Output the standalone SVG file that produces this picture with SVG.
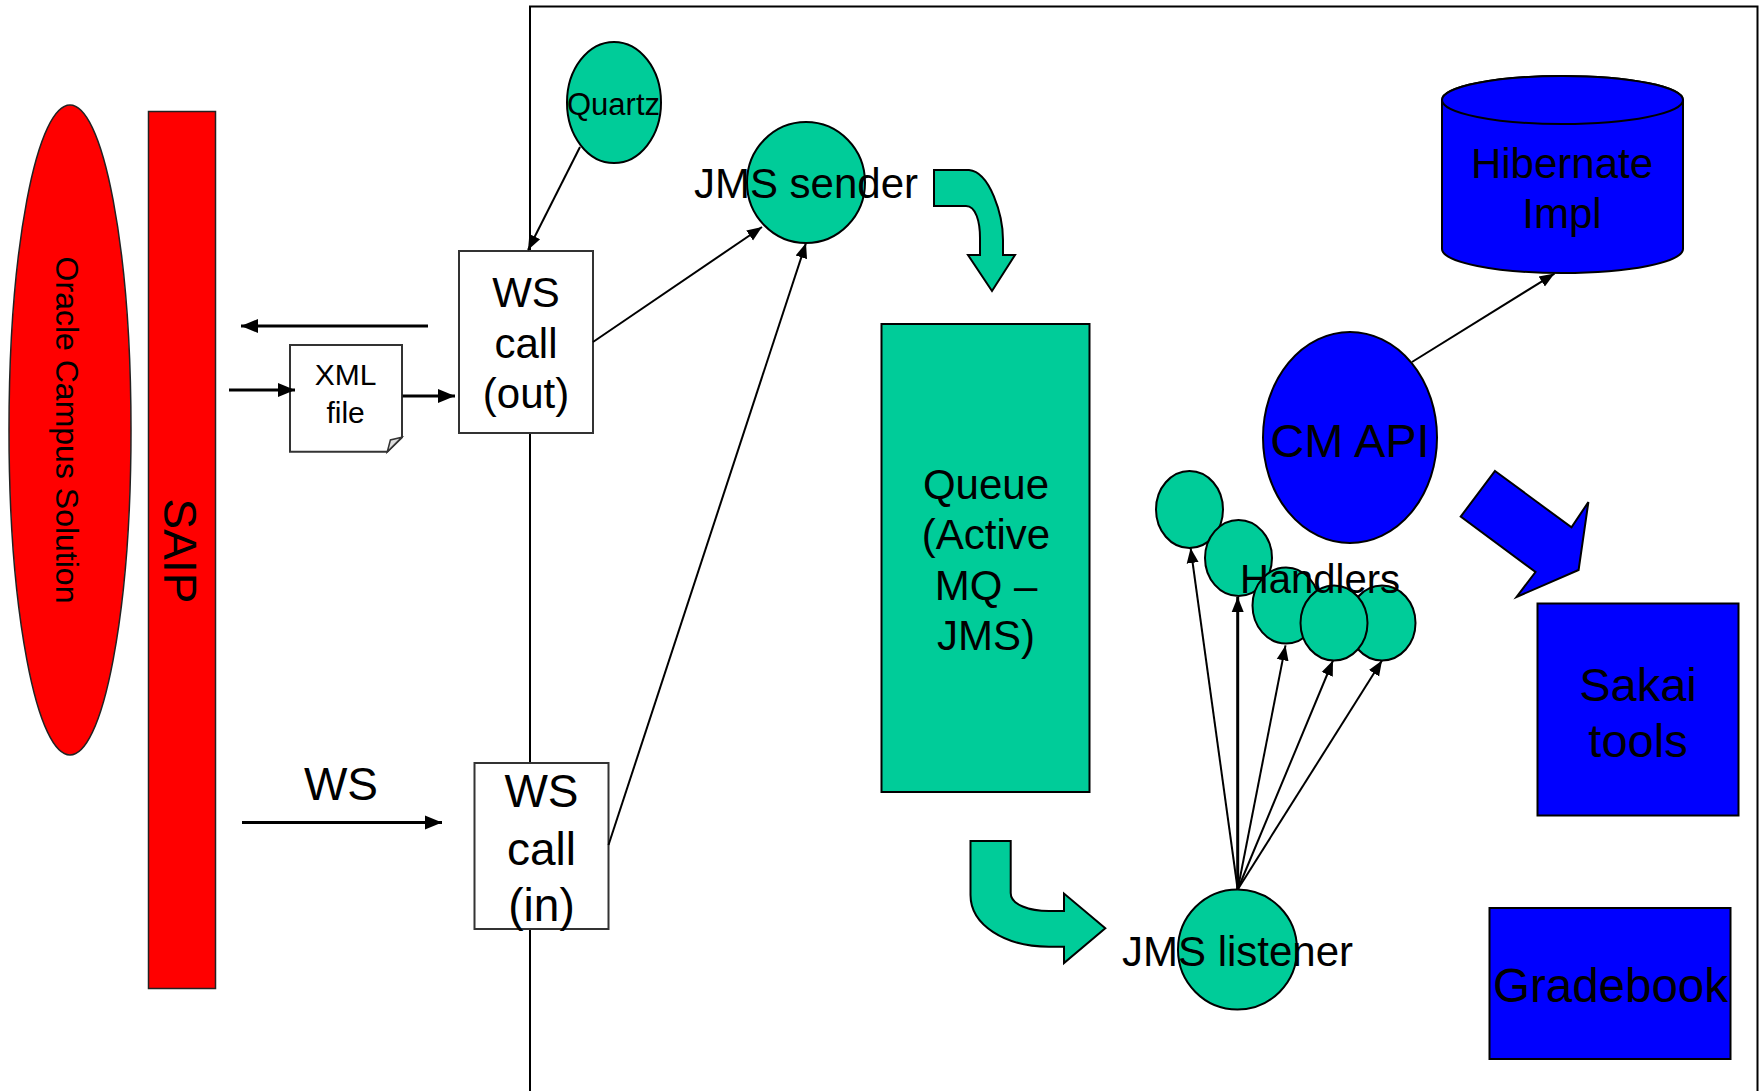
<svg xmlns="http://www.w3.org/2000/svg" width="1763" height="1091" viewBox="0 0 1763 1091">
<defs>
<style>
text{font-family:"Liberation Sans",Arial,sans-serif;fill:#000;text-anchor:middle}
.red{fill:#FF0000;stroke:#222;stroke-width:1.5}
.grn{fill:#00CC99;stroke:#000;stroke-width:2}
.blu{fill:#0000FF;stroke:#000;stroke-width:2}
.box{fill:#fff;stroke:#333;stroke-width:2}
.ln{fill:none;stroke:#000;stroke-width:2}
.lt{fill:none;stroke:#000;stroke-width:3}
</style>
<marker id="ah" markerUnits="userSpaceOnUse" markerWidth="18" markerHeight="16" viewBox="0 0 18 16" refX="17" refY="8" orient="auto">
<path d="M0,1 L17,8 L0,15 Z" fill="#000"/>
</marker>
<marker id="as" markerUnits="userSpaceOnUse" markerWidth="16" markerHeight="14" viewBox="0 0 16 14" refX="15" refY="7" orient="auto">
<path d="M0,1 L15,7 L0,13 Z" fill="#000"/>
</marker>
</defs>
<rect width="1763" height="1091" fill="#fff"/>
<g id="frame"><path d="M530 1091 V6.5 H1757.5 V1091" class="ln"/></g>
<g id="oracle"><ellipse cx="70" cy="430" rx="61" ry="325" class="red"/>
<text transform="translate(56,430) rotate(90)" font-size="32">Oracle Campus Solution</text></g>
<g id="saip"><rect x="148.5" y="111.5" width="67" height="877" class="red"/>
<text transform="translate(164,551) rotate(90)" font-size="46">SAIP</text></g>
<g id="quartz"><ellipse cx="614" cy="102.5" rx="47" ry="60.5" class="grn"/><text x="613.5" y="115" font-size="31">Quartz</text></g>
<g id="jms-sender"><ellipse cx="806" cy="182.5" rx="59" ry="60.5" class="grn"/><text x="806" y="198" font-size="42">JMS sender</text></g>
<g id="ws-out"><rect x="459" y="251" width="134" height="182" class="box"/>
<text font-size="42"><tspan x="526" y="307">WS</tspan><tspan x="526" y="358">call</tspan><tspan x="526" y="408">(out)</tspan></text></g>
<g id="xml-file"><path d="M290 345 H402 V437.3 L387.3 451.7 H290 Z" class="box"/><path d="M401.8 437.3 L390.4 440 L387.3 451.7 Z" fill="#ddd" stroke="#333" stroke-width="1.5"/>
<text font-size="30"><tspan x="345.6" y="385">XML</tspan><tspan x="345.6" y="423">file</tspan></text></g>
<g id="ws-in"><rect x="474.5" y="763" width="134" height="166" class="box"/>
<text font-size="46"><tspan x="541.5" y="807">WS</tspan><tspan x="541.5" y="865">call</tspan><tspan x="541.5" y="921">(in)</tspan></text></g>
<g id="ws-label"><text x="341" y="800" font-size="46">WS</text></g>
<g id="queue"><rect x="881.5" y="324" width="208" height="468" class="grn"/>
<text font-size="42"><tspan x="986" y="499">Queue</tspan><tspan x="986" y="549">(Active</tspan><tspan x="986" y="600">MQ –</tspan><tspan x="986" y="650">JMS)</tspan></text></g>
<g id="hibernate"><path d="M1442 100 V249 A120.5 24 0 0 0 1683 249 V100 A120.5 24 0 0 0 1442 100 Z" class="blu"/><ellipse cx="1562.5" cy="100" rx="120.5" ry="24" class="blu"/>
<text font-size="42"><tspan x="1562" y="178">Hibernate</tspan><tspan x="1562" y="228">Impl</tspan></text></g>
<g id="cm-api"><ellipse cx="1350" cy="437.5" rx="87" ry="105.5" class="blu"/><text x="1350" y="457" font-size="47">CM API</text></g>
<g id="sakai-tools"><rect x="1537.5" y="603.5" width="201" height="212" class="blu"/>
<text font-size="47"><tspan x="1638" y="701">Sakai</tspan><tspan x="1638" y="757">tools</tspan></text></g>
<g id="gradebook"><rect x="1489.5" y="908" width="241" height="151" class="blu"/><text x="1610.5" y="1002" font-size="47.5">Gradebook</text></g>
<g id="handlers">
<ellipse cx="1189.5" cy="509.5" rx="33.5" ry="38.5" class="grn"/>
<ellipse cx="1238.5" cy="558" rx="33.5" ry="38" class="grn"/>
<ellipse cx="1286" cy="605.5" rx="33.5" ry="38" class="grn"/>
<ellipse cx="1382" cy="623" rx="33.5" ry="37.5" class="grn"/>
<ellipse cx="1334" cy="623" rx="33.5" ry="37.5" class="grn"/>
<text x="1320" y="593" font-size="40">Handlers</text></g>
<g id="jms-listener"><ellipse cx="1237.5" cy="949.5" rx="59.5" ry="60" class="grn"/><text x="1237.5" y="966" font-size="42">JMS listener</text></g>
<g id="connectors">
<line x1="580" y1="147" x2="528" y2="250" class="ln" marker-end="url(#as)"/>
<line x1="593" y1="342" x2="762" y2="227" class="ln" marker-end="url(#as)"/>
<line x1="608.5" y1="845" x2="806" y2="243" class="ln" marker-end="url(#as)"/>
<line x1="428" y1="326" x2="241" y2="326" class="lt" marker-end="url(#ah)"/>
<line x1="229" y1="390" x2="295" y2="390" class="lt" marker-end="url(#ah)"/>
<line x1="402.6" y1="396" x2="455" y2="396" class="lt" marker-end="url(#ah)"/>
<line x1="242" y1="822.6" x2="442" y2="822.6" class="lt" marker-end="url(#ah)"/>
<line x1="1412" y1="362" x2="1554.5" y2="273.6" class="ln" marker-end="url(#as)"/>
<line x1="1237.7" y1="889.5" x2="1190.6" y2="548" class="ln" marker-end="url(#as)"/>
<line x1="1237.7" y1="889.5" x2="1237.7" y2="597" class="lt" marker-end="url(#as)"/>
<line x1="1237.7" y1="889.5" x2="1285.5" y2="645.4" class="ln" marker-end="url(#as)"/>
<line x1="1237.7" y1="889.5" x2="1333" y2="660.5" class="ln" marker-end="url(#as)"/>
<line x1="1237.7" y1="889.5" x2="1382" y2="660.5" class="ln" marker-end="url(#as)"/>
<path d="M934 170 L969 170 C990 172 1003 215 1003 240 L1003 255 L1015 255 L992 291 L968 255 L980 255 L980 238 C980 222 976 206 966 206 L934 206 Z" class="grn"/>
<path d="M970.5 841 L1010.7 841 L1010.7 893 C1010.7 905 1030 911 1049 911 L1064 911 L1064 893.6 L1105.3 928.3 L1064 963 L1064 946.7 L1049 946.7 C1005 946.7 970.5 925 970.5 895 Z" class="grn"/>
<path d="M1495 471 L1571.5 527.4 L1588.4 502 L1578.6 570 L1516.5 597 L1535.5 572 L1460.7 516.6 Z" class="blu"/>
</g>
</svg>
